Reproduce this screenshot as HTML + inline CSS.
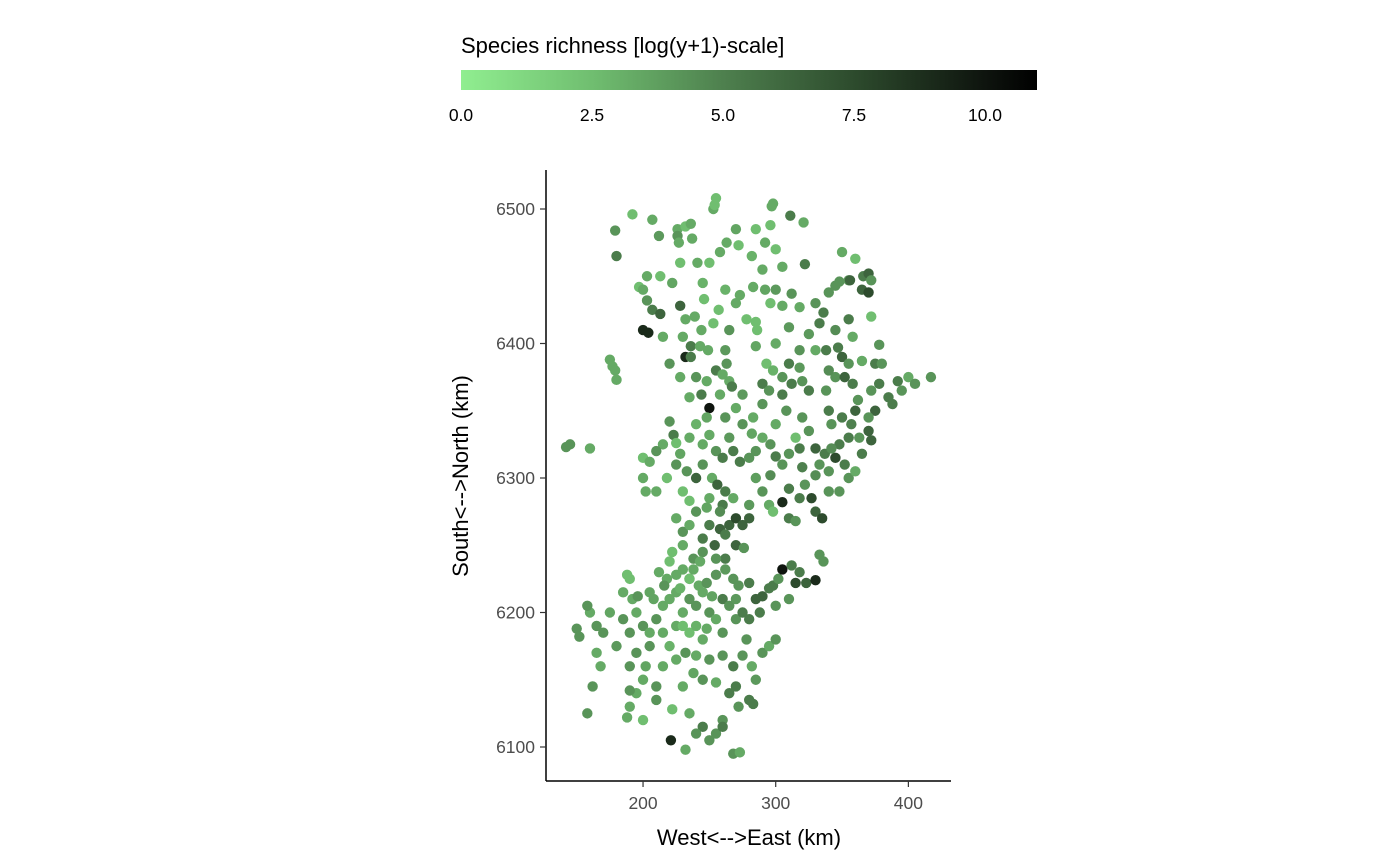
<!DOCTYPE html>
<html><head><meta charset="utf-8"><style>
html,body{margin:0;padding:0;background:#fff;}
svg{display:block;font-family:"Liberation Sans",sans-serif;}
</style></head><body>
<svg id="chart" width="1400" height="866" viewBox="0 0 1400 866">
<defs>
<linearGradient id="cg" x1="0" x2="1" y1="0" y2="0">
<stop offset="0" stop-color="#90EE90"/><stop offset="0.227" stop-color="#70BE70"/><stop offset="0.455" stop-color="#4E804E"/><stop offset="0.682" stop-color="#2D4B2D"/><stop offset="0.909" stop-color="#0E140E"/><stop offset="1" stop-color="#000"/>
</linearGradient>
</defs>
<text x="461" y="53" font-size="22" fill="#000">Species richness [log(y+1)-scale]</text>
<rect x="461" y="70" width="576" height="20" fill="url(#cg)"/>
<g id="cticks"></g>
<g id="points"></g>
<line x1="546" y1="170" x2="546" y2="781" stroke="#000" stroke-width="1.5"/>
<line x1="546" y1="781" x2="951" y2="781" stroke="#000" stroke-width="1.5"/>
<g id="xticks"></g>
<g id="yticks"></g>
<text x="749" y="845" font-size="22" text-anchor="middle">West&lt;--&gt;East (km)</text>
<text transform="translate(468,476) rotate(-90)" font-size="22" text-anchor="middle">South&lt;--&gt;North (km)</text>
</svg>
<script>
const xTicks=[200,300,400];
const yTicks=[6100,6200,6300,6400,6500];
const cTicks=[0,2.5,5,7.5,10];
const cTickLabels=["0.0","2.5","5.0","7.5","10.0"];
const pts=[
[255,6508,2.5],[253,6500,3.3],[254,6503,2.5],[192,6496,2.5],[179,6484,4.2],[207,6492,3.3],[226,6485,3.3],[232,6487,2.5],[236,6489,3.3],[226,6480,4.2],[237,6478,3.3],[250,6460,2.5],[258,6468,3.3],[263,6475,3.3],[272,6473,2.5],[285,6485,2.5],[296,6488,2.5],[298,6504,3.3],[297,6502,3.3],[292,6475,3.3],[300,6470,2.5],[311,6495,5.2],[321,6490,3.3],[290,6455,3.3],[305,6457,3.3],[322,6459,5.2],[180,6465,5.2],[197,6442,2.5],[203,6450,3.3],[213,6450,2.5],[228,6460,2.5],[241,6460,3.3],[227,6475,3.3],[350,6468,3.3],[360,6463,2.5],[355,6447,4.2],[366,6450,5.2],[370,6452,6.3],[372,6447,4.2],
[200,6440,3.3],[203,6432,4.2],[207,6425,5.2],[213,6422,6.3],[228,6428,6.3],[232,6418,3.3],[239,6420,3.3],[244,6410,3.3],[253,6415,2.5],[257,6425,2.5],[246,6433,2.5],[265,6410,4.2],[270,6430,3.3],[273,6436,3.3],[278,6418,2.5],[285,6416,2.5],[286,6410,2.5],[283,6442,3.3],[296,6430,2.5],[305,6428,3.3],[312,6437,4.2],[318,6427,3.3],[330,6430,4.2],[336,6423,5.2],[333,6415,5.2],[340,6438,4.2],[345,6443,4.2],[348,6446,4.2],[365,6440,6.3],[370,6438,7.5],[356,6447,6.3],[372,6420,2.5],[355,6418,5.2],[318,6395,4.2],[300,6400,3.3],[200,6410,9],[204,6408,9],[220,6385,4.2],[215,6405,3.3],[230,6405,3.3],[236,6398,5.2],[243,6398,3.3],[249,6395,3.3],[232,6390,9],[236,6390,5.2],[263,6385,4.2],[293,6385,2.5],[305,6375,4.2],[310,6385,5.2],[330,6395,3.3],[338,6395,5.2],[347,6397,5.2],[350,6390,6.3],[355,6385,4.2],[358,6405,3.3],[365,6387,3.3],[375,6385,5.2],[380,6385,4.2],[378,6399,4.2],[175,6388,3.3],[177,6383,3.3],[179,6380,3.3],[180,6373,3.3],
[228,6375,3.3],[240,6375,4.2],[248,6372,3.3],[255,6380,5.2],[260,6377,3.3],[265,6372,3.3],[267,6368,5.2],[258,6362,3.3],[250,6352,10],[244,6362,5.2],[235,6360,3.3],[270,6352,3.3],[290,6370,5.2],[295,6365,4.2],[305,6362,5.2],[312,6370,5.2],[320,6372,4.2],[325,6365,5.2],[338,6365,4.2],[345,6375,4.2],[352,6375,6.3],[358,6370,5.2],[362,6358,4.2],[360,6350,6.3],[372,6365,4.2],[378,6370,5.2],[385,6360,5.2],[392,6372,5.2],[400,6375,3.3],[405,6370,4.2],[417,6375,4.2],[395,6365,4.2],[388,6355,5.2],[375,6350,6.3],[370,6345,4.2],[342,6340,4.2],[340,6350,5.2],[320,6345,4.2],[308,6350,4.2],[300,6340,3.3],[290,6355,4.2],[283,6345,3.3],[275,6340,4.2],[262,6345,4.2],
[220,6342,4.2],[223,6332,5.2],[225,6326,2.5],[235,6330,3.3],[245,6325,3.3],[250,6332,3.3],[255,6320,4.2],[260,6315,5.2],[268,6320,5.2],[273,6312,5.2],[215,6325,3.3],[210,6320,4.2],[200,6315,2.5],[205,6312,3.3],[218,6300,2.5],[225,6310,4.2],[233,6305,4.2],[240,6300,6.3],[245,6310,4.2],[252,6300,3.3],[256,6295,6.3],[262,6290,5.2],[280,6315,4.2],[285,6320,4.2],[290,6330,3.3],[296,6325,4.2],[300,6316,5.2],[305,6310,4.2],[310,6318,4.2],[315,6330,2.5],[318,6322,5.2],[325,6335,4.2],[330,6322,6.3],[333,6310,4.2],[337,6318,5.2],[340,6305,4.2],[345,6315,7.5],[348,6325,5.2],[352,6310,5.2],[355,6300,4.2],[360,6305,3.3],[365,6318,5.2],[370,6335,6.3],[372,6328,6.3],[363,6330,4.2],[355,6330,5.2],[350,6345,5.2],[142,6323,4.2],[145,6325,4.2],[160,6322,3.3],[200,6300,3.3],[202,6290,3.3],[210,6290,3.3],[230,6290,2.5],[235,6283,2.5],[250,6285,3.3],[260,6280,5.2],[268,6285,3.3],[290,6290,4.2],[295,6280,3.3],[305,6282,9],[310,6292,5.2],[318,6285,5.2],[322,6295,4.2],[327,6285,7.5],[330,6275,6.3],[335,6270,7.5],[340,6290,4.2],[348,6290,4.2],[310,6270,5.2],[315,6268,4.2],[298,6275,2.5],
[225,6270,3.3],[230,6260,4.2],[235,6265,3.3],[240,6275,4.2],[245,6255,5.2],[250,6265,5.2],[254,6250,6.3],[258,6262,6.3],[262,6258,5.2],[265,6265,6.3],[270,6270,7.5],[275,6265,6.3],[280,6270,6.3],[270,6250,6.3],[276,6248,4.2],[262,6240,5.2],[255,6240,4.2],[245,6245,4.2],[238,6240,4.2],[230,6250,3.3],[222,6245,2.5],[220,6238,2.5],[218,6225,3.3],[216,6220,4.2],[212,6230,3.3],[225,6228,3.3],[230,6232,3.3],[235,6225,4.2],[242,6220,3.3],[248,6222,4.2],[255,6228,4.2],[268,6225,4.2],[272,6220,4.2],[280,6222,5.2],[290,6212,6.3],[298,6220,5.2],[302,6225,4.2],[305,6232,10],[312,6235,5.2],[318,6230,5.2],[315,6222,7.5],[323,6222,6.3],[330,6224,9],[333,6243,4.2],[336,6238,4.2],[310,6210,4.2],[300,6205,4.2],[295,6218,5.2],[288,6200,5.2],[285,6210,6.3],
[185,6215,3.3],[192,6210,3.3],[195,6200,3.3],[200,6190,4.2],[205,6185,3.3],[210,6195,4.2],[215,6205,3.3],[220,6210,3.3],[225,6215,3.3],[230,6200,3.3],[235,6210,4.2],[240,6205,4.2],[245,6215,3.3],[250,6200,4.2],[255,6195,3.3],[260,6210,5.2],[265,6205,4.2],[270,6195,4.2],[275,6200,5.2],[280,6195,5.2],[260,6185,4.2],[248,6188,3.3],[235,6185,2.5],[225,6190,3.3],[215,6185,3.3],[205,6175,4.2],[195,6170,4.2],[190,6160,4.2],[200,6150,3.3],[210,6145,4.2],[215,6160,3.3],[225,6165,3.3],[232,6170,4.2],[240,6168,3.3],[250,6165,4.2],[260,6168,4.2],[268,6160,5.2],[275,6168,4.2],[282,6160,3.3],[290,6170,4.2],[295,6175,3.3],[300,6180,4.2],[165,6190,4.2],[170,6185,4.2],[160,6200,3.3],[150,6188,4.2],[152,6182,4.2],[158,6205,4.2],[165,6170,3.3],[168,6160,3.3],[162,6145,4.2],[158,6125,4.2],[185,6195,4.2],[190,6185,4.2],[188,6228,2.5],[190,6225,2.5],[196,6212,4.2],[195,6140,3.3],[190,6130,3.3],[200,6120,2.5],[210,6135,4.2],[222,6128,2.5],[230,6145,3.3],[245,6150,4.2],[255,6148,3.3],[265,6140,5.2],[270,6145,5.2],[283,6132,5.2],[280,6135,5.2],[272,6130,4.2],[260,6120,4.2],[245,6115,5.2],[240,6110,4.2],[235,6125,3.3],[250,6105,4.2],[255,6110,4.2],[260,6115,5.2],[221,6105,9],[232,6098,3.3],[268,6095,4.2],[273,6096,3.3],[190,6142,4.2],[188,6122,3.3],[230,6190,2.5],[245,6180,3.3],[278,6180,4.2],[235,6225,2.5],
[238,6232,3.3],[243,6238,3.3],[228,6218,3.0],[262,6232,4.0],[252,6212,3.6],[208,6210,3.5],[240,6190,3.0],[270,6210,4.0],[258,6275,4.5],[248,6278,3.5],[280,6280,4.0],[296,6302,4.5],[285,6300,3.8],[320,6308,5.0],[330,6302,4.5],[342,6322,4.5],[357,6340,5.0],[282,6333,3.5],[265,6330,4.0],[240,6340,3.0],[228,6318,3.5],[248,6345,3.5],[275,6362,4.0],[298,6380,3.0],[318,6382,4.0],[340,6380,4.5],[262,6395,4.0],[285,6398,3.5],[292,6440,3.5],[262,6440,3.0],[245,6445,3.0],[222,6445,3.5],[310,6412,4.0],[325,6407,4.0],[345,6410,4.5],[300,6440,4.0],[282,6465,3.0],[270,6485,3.5],[212,6480,4.0],[205,6215,3.5],[220,6175,3.0],[238,6155,3.5],[285,6150,4.0],[180,6175,4.0],[175,6200,3.5],[202,6160,3.5]
];
const NS='http://www.w3.org/2000/svg';
const xs=v=>377.7+(v)*1.3267;
const ys=v=>209+(6500-v)*1.345;
const cs=v=>461+v*52.4;
const stops=[[0,[144,238,144]],[2.5,[112,190,112]],[5,[78,128,78]],[7.5,[45,75,45]],[10,[14,20,14]],[11,[0,0,0]]];
function col(v){for(let i=0;i<stops.length-1;i++){const a=stops[i],b=stops[i+1];if(v<=b[0]){const t=(v-a[0])/(b[0]-a[0]);const c=a[1].map((q,k)=>Math.round(q+(b[1][k]-q)*t));return `rgb(${c})`;}}return '#000';}
function mk(t,at,p){const e=document.createElementNS(NS,t);for(const k in at)e.setAttribute(k,at[k]);p.appendChild(e);return e;}
const gp=document.getElementById('points');
pts.forEach(p=>{const c=mk('circle',{cx:xs(p[0]),cy:ys(p[1]),r:5.2,fill:col(p[2])},gp);

});
const gx=document.getElementById('xticks');
xTicks.forEach(v=>{mk('line',{x1:xs(v),x2:xs(v),y1:781,y2:787,stroke:'#333','stroke-width':1.2},gx);
const t=mk('text',{x:xs(v),y:809,'font-size':17.5,fill:'#4d4d4d','text-anchor':'middle'},gx);t.textContent=v;

});
const gy=document.getElementById('yticks');
yTicks.forEach(v=>{mk('line',{x1:540,x2:546,y1:ys(v),y2:ys(v),stroke:'#333','stroke-width':1.2},gy);
const t=mk('text',{x:535,y:ys(v)+6,'font-size':17.5,fill:'#4d4d4d','text-anchor':'end'},gy);t.textContent=v;

});
const gc=document.getElementById('cticks');
cTicks.forEach((v,i)=>{const t=mk('text',{x:cs(v),y:121,'font-size':17.5,fill:'#000','text-anchor':'middle'},gc);t.textContent=cTickLabels[i];

});
</script>
</body></html>
